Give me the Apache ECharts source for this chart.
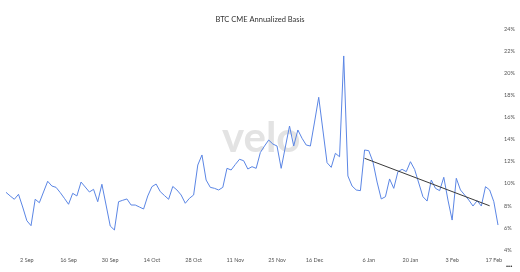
<!DOCTYPE html>
<html>
<head>
<meta charset="utf-8">
<script src="https://cdn.jsdelivr.net/npm/echarts@6/dist/echarts.min.js"></script>
<style>
html,body{margin:0;padding:0;background:#fff;}
#chart{width:520px;height:272px;}
</style>
</head>
<body>
<div id="chart"></div>
<script>
// BTC CME annualized basis (%), one value per trading day
const basis = [
  9.22, 8.89, 8.59, 9.04, 7.89, 6.65, 6.20, 8.59, 8.28,
  9.25, 10.22, 9.79, 9.67, 9.20, 8.68, 8.14, 9.13, 8.89, 10.15,
  9.70, 9.25, 9.49, 8.37, 9.95, 8.07, 6.17, 5.81, 8.37,
  8.50, 8.62, 8.07, 8.07, 7.89, 7.71, 8.89, 9.73, 9.97, 9.28, 8.93, 8.59, 9.75, 9.43, 8.98, 8.23, 8.68, 8.98, 11.69, 12.60,
  10.33, 9.67, 9.58, 9.43, 9.67, 11.39, 11.24, 11.74, 12.21, 12.08, 11.33, 11.54, 11.39, 12.82, 13.41, 13.95, 13.59, 13.41, 11.39, 13.32, 15.22, 13.41, 14.86, 14.11, 13.50, 13.41, 15.58, 17.82, 14.86, 11.90, 11.48, 12.75, 12.44, 21.56,
  10.70, 9.79, 9.43, 9.37, 13.05, 12.99, 11.99, 10.15, 8.62, 8.82, 10.43, 9.58, 11.09, 11.30, 11.09, 11.99, 11.29, 10.06, 8.82, 8.43, 10.33, 9.58, 9.37, 10.58, 8.52, 6.71, 10.49, 9.43, 8.98, 8.52, 7.98, 8.46, 7.98, 9.73, 9.43, 8.37, 6.26
];
// x-axis tick labels and the trading-day index they sit on
const tickLabels = ['2 Sep','16 Sep','30 Sep','14 Oct','28 Oct','11 Nov','25 Nov','16 Dec','6 Jan','20 Jan','3 Feb','17 Feb'];
const tickIndex  = [5, 15, 25, 35, 45, 55, 65, 74, 87, 97, 107, 117];
// trend line endpoints: [day index, basis %]
const trendStart = [86, 12.3];
const trendEnd   = [116, 8.0];

const days = basis.map((_, i) => String(i));

const chart = echarts.init(document.getElementById('chart'), null, {renderer: 'canvas'});
chart.setOption({
  animation: false,
  backgroundColor: '#ffffff',
  title: {
    text: 'BTC CME Annualized Basis',
    left: 'center',
    top: 11,
    textStyle: {fontFamily: 'Lato', fontSize: 7.5, fontWeight: 'normal', color: '#333'}
  },
  graphic: [
    {type: 'text', left: 222, top: 117, z: 0, silent: true,
     style: {text: 'velo', fontFamily: 'Lato', fontWeight: 'bold', fontSize: 42, fill: '#e3e3e3'}},
    {type: 'text', left: 506, top: 263, style: {text: '•••', fontSize: 6, fill: '#333'}}
  ],
  grid: {left: 6, right: 22, top: 29, bottom: 22},
  xAxis: {
    type: 'category',
    data: days,
    boundaryGap: false,
    axisLine: {show: false},
    axisTick: {show: false},
    splitLine: {show: false},
    axisLabel: {
      interval: (idx) => tickIndex.includes(idx),
      formatter: (val, idx) => tickLabels[tickIndex.indexOf(idx)],
      fontFamily: 'Lato', fontSize: 5.5, color: '#555', margin: 7
    }
  },
  yAxis: {
    type: 'value',
    position: 'right',
    min: 4, max: 24, interval: 2,
    axisLine: {show: false},
    axisTick: {show: false},
    splitLine: {show: false},
    axisLabel: {formatter: '{value}%', fontFamily: 'Lato', fontSize: 5.5, color: '#555', margin: 6}
  },
  series: [
    {type: 'line', data: basis, symbol: 'none', z: 3,
     lineStyle: {color: '#5b86e5', width: 1}},
    {type: 'line', data: [trendStart, trendEnd], symbol: 'none', z: 4,
     lineStyle: {color: '#3a3a3a', width: 1}}
  ]
});
</script>
</body>
</html>
